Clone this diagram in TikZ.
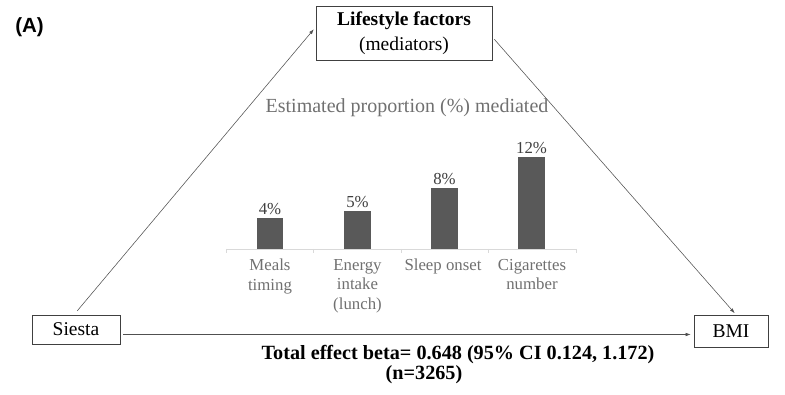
\documentclass[tikz,border=0pt]{standalone}
\usepackage{fontspec}
\setmainfont{Liberation Serif}
\newfontfamily\panelfont{Liberation Sans}
\usetikzlibrary{arrows.meta}
\definecolor{bargray}{HTML}{595959}
\definecolor{labgray}{HTML}{707070}
\definecolor{valgray}{HTML}{404040}
\definecolor{axisgray}{HTML}{D9D9D9}
\definecolor{linegray}{HTML}{505050}
\tikzset{
  box/.style={draw=black!75, line width=0.6pt, fill=white, inner sep=0pt, align=center,
    font=\fontsize{19.5}{25}\selectfont},
  conn/.style={draw=linegray, line width=0.55pt, -{Latex[length=5pt,width=3.5pt]}},
  catlab/.style={text=labgray, align=center, inner sep=0pt, anchor=north,
    font=\fontsize{16.8}{19.5}\selectfont},
  vallab/.style={text=valgray, inner sep=0pt, anchor=south, font=\fontsize{16.8}{19}\selectfont},
  bar/.style={fill=bargray, draw=none},
  tick/.style={draw=axisgray, line width=0.8pt}
}
\begin{document}
\begin{tikzpicture}[x=1pt,y=1pt]
\useasboundingbox (0,0) rectangle (785,395);
% panel label
\node[font=\panelfont\bfseries\fontsize{20.5}{24}\selectfont, inner sep=0pt] (panel) at (29.5,368) {(A)};
% main boxes
\node[box, minimum width=176pt, minimum height=54pt] (life) at (404,362)
  {\textbf{Lifestyle factors}\\(mediators)};
\node[box, minimum width=88pt, minimum height=29pt] (siesta) at (76,65.5) {Siesta};
\node[box, minimum width=74pt, minimum height=32pt] (bmi) at (731,64) {BMI};
% connectors
\draw[conn, shorten <=5pt, shorten >=3pt] ([xshift=-2pt]siesta.north) -- ([yshift=6pt]life.west);
\draw[conn, shorten <=3pt, shorten >=2pt] ([yshift=-4pt]life.east) -- ([xshift=5pt]bmi.north);
\draw[conn, shorten <=3pt, shorten >=3pt] ([yshift=-5pt]siesta.east) -- ([yshift=-3.5pt]bmi.west);
% effect label
\node[font=\bfseries\fontsize{20.2}{24}\selectfont, inner sep=0pt] (total) at (458,40)
  {Total effect beta= 0.648 (95\% CI 0.124, 1.172)};
\node[font=\bfseries\fontsize{20.2}{24}\selectfont, inner sep=0pt] (nlab) at (424,20) {(n=3265)};
% chart title
\node[text=labgray, font=\fontsize{20}{23}\selectfont, inner sep=0pt] (title) at (407,287)
  {Estimated proportion (\%) mediated};
% axis
\draw[tick] (226,146) -- (576,146);
\foreach \x in {226,313.5,401,488.5,576} { \draw[tick] (\x,146) -- (\x,142); }
% bars
\fill[bar] (256.5,146) rectangle (283,177);
\fill[bar] (343.5,146) rectangle (371,184);
\fill[bar] (431,146) rectangle (458,207);
\fill[bar] (518,146) rectangle (545,238);
% value labels
\node[vallab] (v1) at (270,180) {4\%};
\node[vallab] (v2) at (357.5,187) {5\%};
\node[vallab] (v3) at (444.5,210) {8\%};
\node[vallab] (v4) at (531.5,241) {12\%};
% category labels
\node[catlab] (c1) at (270,136) {Meals\\timing};
\node[catlab] (c2) at (357.5,136) {Energy\\intake\\(lunch)};
\node[catlab] (c3) at (443,136) {Sleep onset};
\node[catlab] (c4) at (532,136) {Cigarettes\\number};
\end{tikzpicture}
\end{document}
